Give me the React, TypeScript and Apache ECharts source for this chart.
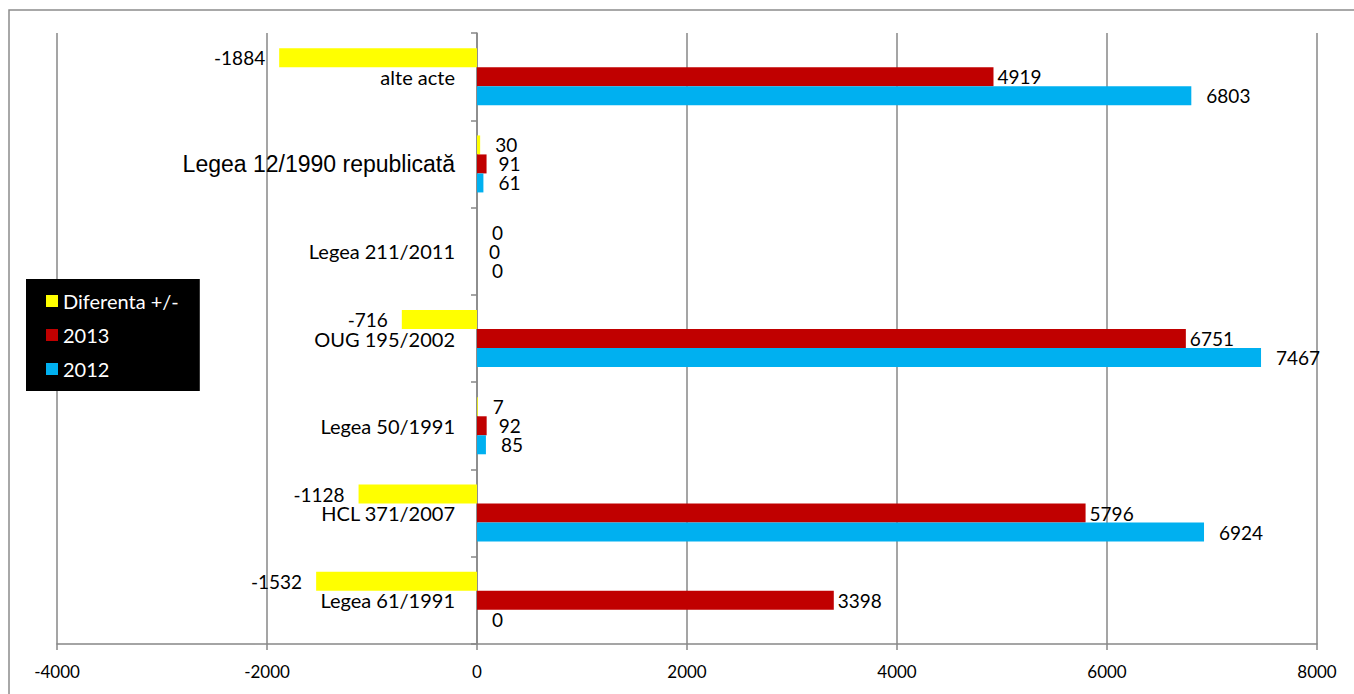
import React, { useEffect, useRef } from "react";
import * as echarts from "echarts";

const categories = [
  "Legea 61/1991",
  "HCL 371/2007",
  "Legea 50/1991",
  "OUG 195/2002",
  "Legea 211/2011",
  "Legea 12/1990 republicată",
  "alte acte",
];
const values2012 = [0, 6924, 85, 7467, 0, 61, 6803];
const values2013 = [3398, 5796, 92, 6751, 0, 91, 4919];
const valuesDiff = [-1532, -1128, 7, -716, 0, 30, -1884];
const seriesNames = ["Diferenta +/-", "2013", "2012"];
const xTicks = [-4000, 8000, 2000];

const FONT = "Lato";

export default function App() {
  const ref = useRef<HTMLDivElement>(null);
  useEffect(() => {
    document.body.style.margin = "0";
    const chart = echarts.init(ref.current!, undefined, { renderer: "svg" });
    const lbl = (dist: number) => ({
      show: true,
      position: "right",
      distance: dist,
      color: "#000",
      fontFamily: FONT,
      fontSize: 19,
      lineHeight: 17,
    });
    const mk = (vals: number[], posDist: (v: number) => number, negDist: number) =>
      vals.map((v) => ({
        value: v,
        label: v < 0 ? { position: "left", distance: negDist } : { position: "right", distance: posDist(v) },
      }));
    chart.setOption({
      animation: false,
      backgroundColor: "#fff",
      grid: { left: 57, right: 37, top: 33, bottom: 50, containLabel: false, outerBoundsMode: "none" },
      legend: {
        orient: "vertical",
        left: 26,
        top: 279,
        data: seriesNames,
        backgroundColor: "#000",
        padding: [12, 21, 12, 20],
        itemGap: 14,
        itemWidth: 12,
        itemHeight: 12,
        icon: "rect",
        textStyle: { color: "#fff", fontFamily: FONT, fontSize: 20 },
        z: 10,
      },
      xAxis: {
        type: "value",
        min: xTicks[0],
        max: xTicks[1],
        interval: xTicks[2],
        axisLine: { show: true, lineStyle: { color: "#878787", width: 1.5 } },
        axisTick: { show: true, length: 6, lineStyle: { color: "#878787", width: 1.5 } },
        splitLine: { show: true, lineStyle: { color: "#878787", width: 1.5 } },
        axisLabel: {
          color: "#000",
          fontFamily: FONT,
          fontSize: 17,
          margin: 19,
          formatter: (v: number) => String(v),
        },
      },
      yAxis: {
        type: "category",
        data: categories,
        position: "left",
        offset: -420,
        axisLine: { show: true, onZero: false, lineStyle: { color: "#878787", width: 1.5 } },
        axisTick: { show: true, length: 6, lineStyle: { color: "#878787", width: 1.5 } },
        splitLine: { show: false },
        axisLabel: {
          color: "#000",
          fontFamily: FONT,
          fontSize: 20,
          lineHeight: 18,
          margin: 22,
          formatter: (v: string) => (v === "Legea 12/1990 republicată" ? "{big|" + v + "}" : v),
          rich: { big: { fontFamily: "Liberation Sans", fontSize: 23, lineHeight: 20, color: "#000" } },
        },
      },
      graphic: [
        {
          type: "rect",
          shape: { x: 9, y: 10, width: 1500, height: 800 },
          style: { fill: "none", stroke: "#8c8c8c", lineWidth: 1.5 },
          silent: true,
          z: -1,
        },
      ],
      series: [
        {
          name: "Diferenta +/-",
          type: "bar",
          data: mk(valuesDiff, () => 15, 14),
          itemStyle: { color: "#ffff00" },
          barWidth: 19,
          barGap: "0%",
          label: lbl(15),
        },
        {
          name: "2013",
          type: "bar",
          data: mk(values2013, (v) => (v < 500 ? 12 : 4), 14),
          itemStyle: { color: "#c00000" },
          barWidth: 19,
          barGap: "0%",
          label: lbl(4),
        },
        {
          name: "2012",
          type: "bar",
          data: mk(values2012, () => 15, 14),
          itemStyle: { color: "#00b0f0" },
          barWidth: 19,
          barGap: "0%",
          label: lbl(15),
        },
      ],
    });
    return () => chart.dispose();
  }, []);
  return <div ref={ref} style={{ width: 1354, height: 694 }} />;
}
